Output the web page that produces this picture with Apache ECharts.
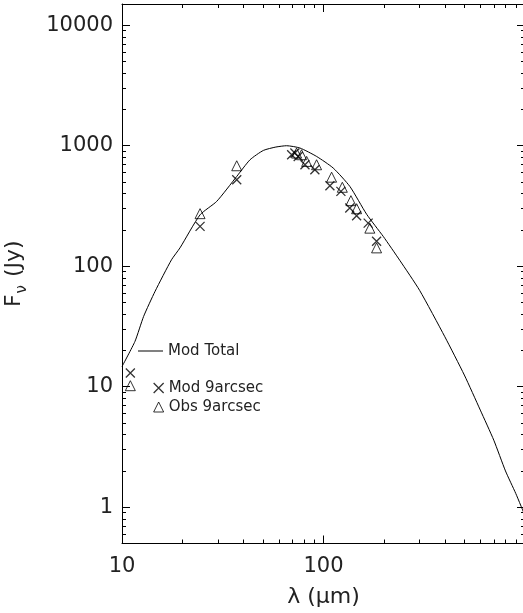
<!DOCTYPE html>
<html><head><meta charset="utf-8">
<script src="https://cdn.jsdelivr.net/npm/echarts@6/dist/echarts.min.js"></script>
<style>html,body{margin:0;padding:0;background:#fff}#c{width:523px;height:613px}</style>
</head><body><div id="c"></div>
<script>
// Model total SED curve (wavelength in micron, flux in Jy)
const curveLambda = [10, 11.6, 12.8, 14.6, 17.6, 19.4, 24.4, 29.5, 37.1, 43.2, 50.3, 58, 65.6, 76.4, 92.4, 111.7, 135.2, 163.7, 197.8, 239, 300, 400, 500, 600, 700, 800, 900, 1000];
const curveFlux   = [14.7, 23.8, 38.3, 62, 113, 142, 267, 345, 556, 765, 914, 975, 1000, 957, 815, 653, 459, 270, 177, 112, 63, 26, 12.5, 6.4, 3.6, 2.0, 1.3, 0.85];
// Mod 9arcsec points
const modLambda = [11.0, 24.4, 37.1, 69.5, 72.1, 74.9, 80.9, 90.6, 107.6, 122, 135, 146, 166.6, 183.4];
const modFlux   = [13.0, 214, 522, 842, 869, 815, 695, 632, 466, 418, 304, 262, 228, 161];
// Obs 9arcsec points
const obsLambda = [11.0, 24.4, 37.1, 73.5, 77.8, 82.5, 92.4, 109.7, 124, 136.8, 146, 169.8, 183.4];
const obsFlux   = [10.2, 273, 682, 869, 842, 741, 695, 548, 452, 350, 300, 207, 142];
// Tick values
const xMajorTicks = [10, 100, 1000];
const xLabelTicks = [10, 100];
const xMinorTicks = [20, 30, 40, 50, 60, 70, 80, 90, 200, 300, 400, 500, 600, 700, 800, 900];
const yMajorTicks = [1, 10, 100, 1000, 10000];
const yMinorTicks = [0.6, 0.7, 0.8, 0.9, 2, 3, 4, 5, 6, 7, 8, 9, 20, 30, 40, 50, 60, 70, 80, 90, 200, 300, 400, 500, 600, 700, 800, 900, 2000, 3000, 4000, 5000, 6000, 7000, 8000, 9000];

const FONT = "'DejaVu Sans'";
const TXT = '#222';
const AX = {color: '#000', width: 1};
const xRange = {min: 10, max: 1000};
const yRange = {min: 0.5, max: 15000};

function xAx(pos, ticks, len, showLine, labels, extra) {
  return Object.assign({
    type: 'log', logBase: 10, position: pos, min: xRange.min, max: xRange.max,
    axisLine: {show: showLine, lineStyle: AX},
    axisTick: {show: true, inside: true, length: len, customValues: ticks, lineStyle: AX},
    axisLabel: labels ? {show: true, customValues: labels, margin: 13, fontSize: 21, fontFamily: FONT, color: TXT,
      formatter: v => String(Math.round(v))} : {show: false},
    splitLine: {show: false}, minorTick: {show: false}
  }, extra || {});
}
function yAx(pos, ticks, len, showLine, labels, extra) {
  return Object.assign({
    type: 'log', logBase: 10, position: pos, min: yRange.min, max: yRange.max,
    axisLine: {show: showLine, lineStyle: AX},
    axisTick: {show: true, inside: true, length: len, customValues: ticks, lineStyle: AX},
    axisLabel: labels ? {show: true, customValues: labels, margin: 9, fontSize: 21, fontFamily: FONT, color: TXT,
      formatter: v => String(Math.round(v))} : {show: false},
    splitLine: {show: false}, minorTick: {show: false}
  }, extra || {});
}

const chart = echarts.init(document.getElementById('c'), null, {renderer: 'canvas'});
const crossPath = 'path://M0,0L10,10M10,0L0,10';
chart.setOption({
  animation: false,
  backgroundColor: '#fff',
  grid: {left: 122, top: 4, width: 403, height: 539.5, containLabel: false, outerBoundsMode: 'none'},
  xAxis: [
    xAx('bottom', xMajorTicks, 8, true, xLabelTicks, {
      name: 'λ (μm)', nameLocation: 'middle', nameGap: 43,
      nameTextStyle: {fontSize: 22, fontFamily: FONT, color: TXT}
    }),
    xAx('bottom', xMinorTicks, 4, false, null),
    xAx('top', xMajorTicks, 8, true, null),
    xAx('top', xMinorTicks, 4, false, null)
  ],
  yAxis: [
    yAx('left', yMajorTicks, 8, true, yMajorTicks, {
      name: '{f|F}{s|ν}{f| (Jy)}', nameLocation: 'middle', nameGap: 92, nameRotate: 90,
      nameTextStyle: {fontSize: 22, fontFamily: FONT, color: TXT,
        rich: {f: {fontSize: 22, fontFamily: FONT, color: TXT},
               s: {fontSize: 15, fontFamily: FONT, color: TXT, padding: [16, 1, 0, 1]}}}
    }),
    yAx('left', yMinorTicks, 4, false, null),
    yAx('right', yMajorTicks, 8, true, null),
    yAx('right', yMinorTicks, 4, false, null)
  ],
  legend: [
    {
      data: [{name: 'Mod Total', icon: 'rect', itemStyle: {color: '#000', borderWidth: 0}}],
      left: 138, top: 343.5, orient: 'vertical',
      itemWidth: 25, itemHeight: 1, padding: 0,
      textStyle: {fontSize: 15, fontFamily: FONT, color: TXT, lineHeight: 15},
      selectedMode: false
    },
    {
      data: [
        {name: 'Mod 9arcsec', icon: crossPath, itemStyle: {color: 'transparent', borderColor: '#000', borderWidth: 1.3}},
        {name: 'Obs 9arcsec', icon: 'triangle', itemStyle: {color: 'transparent', borderColor: '#000', borderWidth: 1}}
      ],
      left: 153, top: 380.5, orient: 'vertical', itemGap: 4,
      itemWidth: 10, itemHeight: 10, padding: 0,
      textStyle: {fontSize: 15, fontFamily: FONT, color: TXT, lineHeight: 15},
      selectedMode: false
    }
  ],
  series: [
    {
      name: 'Mod Total', type: 'line', xAxisIndex: 0, yAxisIndex: 0,
      data: curveLambda.map((l, i) => [l, curveFlux[i]]),
      symbol: 'none', smooth: 0.2,
      lineStyle: {color: '#000', width: 1}, itemStyle: {color: '#000'}, clip: true
    },
    {
      name: 'Mod 9arcsec', type: 'scatter', xAxisIndex: 0, yAxisIndex: 0,
      data: modLambda.map((l, i) => [l, modFlux[i]]),
      symbol: crossPath, symbolSize: 9,
      itemStyle: {color: 'transparent', borderColor: '#000', borderWidth: 1.3}
    },
    {
      name: 'Obs 9arcsec', type: 'scatter', xAxisIndex: 0, yAxisIndex: 0,
      data: obsLambda.map((l, i) => [l, obsFlux[i]]),
      symbol: 'triangle', symbolSize: [10, 10],
      itemStyle: {color: 'transparent', borderColor: '#000', borderWidth: 1}
    }
  ]
});
</script>
</body></html>
